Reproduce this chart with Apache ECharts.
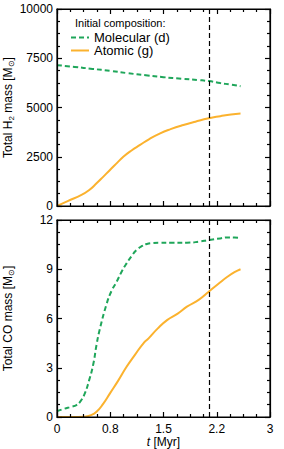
<!DOCTYPE html>
<html>
<head>
<meta charset="utf-8">
<script src="https://cdn.jsdelivr.net/npm/echarts@6/dist/echarts.min.js"></script>
<style>html,body{margin:0;padding:0;background:#fff}#c{width:284px;height:449px}</style>
</head>
<body>
<div id="c"></div>
<script>
// ---- data ----
var xTickLabels = ['0', '0.8', '1.5', '2.2', '3'];
var h2TopTicks = [0, 2500, 5000, 7500, 10000];
var coTicks = [0, 3, 6, 9, 12];
var tRef = 2.137;

var h2MolT = [0, 0.25, 0.5, 0.75, 1.0, 1.25, 1.5, 1.75, 2.0, 2.137, 2.3, 2.45, 2.585];
var h2MolV = [7150, 7060, 6960, 6860, 6740, 6640, 6540, 6460, 6390, 6340, 6240, 6160, 6080];

var h2AtoT = [0, 0.15, 0.345, 0.45, 0.557, 0.65, 0.746, 0.85, 0.934, 1.05, 1.17, 1.3, 1.453, 1.6, 1.78, 1.95, 2.137, 2.3, 2.45, 2.585];
var h2AtoV = [0, 250, 560, 800, 1150, 1480, 1830, 2200, 2500, 2820, 3100, 3400, 3690, 3900, 4110, 4280, 4450, 4560, 4650, 4700];

var coMolT = [0, 0.1, 0.2, 0.274, 0.33, 0.392, 0.45, 0.51, 0.557, 0.6, 0.7, 0.77, 0.84, 0.91, 0.98, 1.05, 1.12, 1.2, 1.265, 1.35, 1.45, 1.6, 1.83, 2.0, 2.137, 2.3, 2.4, 2.5, 2.585];
var coMolV = [0.35, 0.5, 0.62, 0.73, 0.95, 1.44, 2.2, 3.2, 4.4, 5.3, 6.9, 7.7, 8.24, 8.85, 9.36, 9.8, 10.17, 10.42, 10.54, 10.6, 10.62, 10.62, 10.62, 10.68, 10.78, 10.88, 10.94, 10.93, 10.9];

var coAtoT = [0, 0.2, 0.39, 0.47, 0.557, 0.65, 0.746, 0.86, 0.98, 1.1, 1.217, 1.29, 1.42, 1.55, 1.7, 1.83, 2.0, 2.137, 2.27, 2.4, 2.5, 2.585];
var coAtoV = [0, 0, 0.02, 0.1, 0.32, 0.8, 1.44, 2.2, 3.06, 3.8, 4.49, 4.79, 5.4, 5.9, 6.3, 6.72, 7.15, 7.63, 8.1, 8.54, 8.82, 9.0];

function pairs(t, v) { return t.map(function (x, i) { return [x, v[i]]; }); }

var GREEN = '#1fa65a', ORANGE = '#fbb22e';
var FONT = 'Liberation Sans';
var LW = 1.2;
var SOLID = [1000, 0.001];

function ls() { return { color: '#000', width: LW, type: SOLID }; }

function xAx(gi, pos, showLabels) {
  return {
    type: 'value', gridIndex: gi, position: pos, min: 0, max: 3, interval: 0.75, z: 5,
    axisLine: { show: true, onZero: false, lineStyle: ls() },
    axisTick: { show: true, inside: true, length: 5, lineStyle: ls() },
    minorTick: { show: true, splitNumber: 4, length: 3, lineStyle: ls() },
    splitLine: { show: false },
    axisLabel: {
      show: showLabels, margin: 6, color: '#000', fontFamily: FONT, fontSize: 12,
      formatter: function (v) { return xTickLabels[Math.round(v / 0.75)]; }
    },
    name: showLabels ? '{i|t} [Myr]' : '', nameLocation: 'middle', nameGap: 19, nameMoveOverlap: false,
    nameTextStyle: { color: '#000', fontFamily: FONT, fontSize: 12, rich: { i: { fontStyle: 'italic', fontFamily: FONT, fontSize: 12, color: '#000' } } }
  };
}
function yAx(gi, pos, ticks, showLabels, name) {
  return {
    type: 'value', gridIndex: gi, position: pos, min: ticks[0], max: ticks[ticks.length - 1],
    interval: ticks[1] - ticks[0], z: 5,
    axisLine: { show: true, onZero: false, lineStyle: ls() },
    axisTick: { show: true, inside: true, length: 5, lineStyle: ls() },
    minorTick: { show: true, splitNumber: 4, length: 3, lineStyle: ls() },
    splitLine: { show: false },
    axisLabel: { show: showLabels, margin: 4, color: '#000', fontFamily: FONT, fontSize: 12,
      formatter: function (v) { return String(v); } },
    name: name || '', nameLocation: 'middle', nameGap: 42, nameRotate: 90, nameMoveOverlap: false,
    nameTextStyle: {
      color: '#000', fontFamily: FONT, fontSize: 12,
      rich: {
        a: { fontFamily: FONT, fontSize: 12, color: '#000' },
        s: { fontFamily: FONT, fontSize: 8, color: '#000', verticalAlign: 'bottom', padding: [6, 0, 0, 0] }
      }
    }
  };
}

var vline = {
  silent: true, symbol: ['none', 'none'], label: { show: false },
  lineStyle: { color: '#000', type: [5, 3], width: 1.2 },
  data: [{ xAxis: tRef }]
};

var option = {
  animation: false,
  title: {
    text: 'Initial composition:', left: 70, top: 12,
    textStyle: { fontFamily: FONT, fontSize: 11, fontWeight: 'normal', color: '#000' }
  },
  legend: {
    left: 70, top: 31, padding: 0, orient: 'vertical', itemWidth: 18, itemHeight: 8, itemGap: 0,
    itemStyle: { opacity: 0 },
    textStyle: { fontFamily: FONT, fontSize: 13, color: '#000', lineHeight: 11, height: 11 },
    data: ['Molecular (d)', 'Atomic (g)']
  },
  grid: [
    { left: 57, top: 9, width: 213, height: 197, z: 5, show: true, borderColor: '#000', borderWidth: LW, borderType: SOLID, backgroundColor: 'transparent', outerBoundsMode: 'none', containLabel: false },
    { left: 57, top: 220, width: 213, height: 197, z: 5, show: true, borderColor: '#000', borderWidth: LW, borderType: SOLID, backgroundColor: 'transparent', outerBoundsMode: 'none', containLabel: false }
  ],
  xAxis: [xAx(0, 'bottom', false), xAx(0, 'top', false), xAx(1, 'bottom', true), xAx(1, 'top', false)],
  yAxis: [
    yAx(0, 'left', h2TopTicks, true, '{a|Total H}{s|2}{a| mass [M}{s|⊙}{a|]}'),
    yAx(0, 'right', h2TopTicks, false),
    yAx(1, 'left', coTicks, true, '{a|Total CO mass [M}{s|⊙}{a|]}'),
    yAx(1, 'right', coTicks, false)
  ],
  series: [
    { name: 'Molecular (d)', type: 'line', xAxisIndex: 0, yAxisIndex: 0, data: pairs(h2MolT, h2MolV),
      smooth: true, symbol: 'none', lineStyle: { color: GREEN, width: 2, type: [5, 3] }, itemStyle: { color: GREEN }, markLine: vline },
    { name: 'Atomic (g)', type: 'line', xAxisIndex: 0, yAxisIndex: 0, data: pairs(h2AtoT, h2AtoV),
      smooth: true, symbol: 'none', lineStyle: { color: ORANGE, width: 2 }, itemStyle: { color: ORANGE } },
    { name: 'Molecular (d)', type: 'line', xAxisIndex: 2, yAxisIndex: 2, data: pairs(coMolT, coMolV),
      smooth: true, symbol: 'none', lineStyle: { color: GREEN, width: 2, type: [5, 3] }, itemStyle: { color: GREEN }, markLine: vline },
    { name: 'Atomic (g)', type: 'line', xAxisIndex: 2, yAxisIndex: 2, data: pairs(coAtoT, coAtoV),
      smooth: true, symbol: 'none', lineStyle: { color: ORANGE, width: 2 }, itemStyle: { color: ORANGE } }
  ]
};
var chart = echarts.init(document.getElementById('c'), null, { renderer: 'svg' });
chart.setOption(option);
</script>
</body>
</html>
